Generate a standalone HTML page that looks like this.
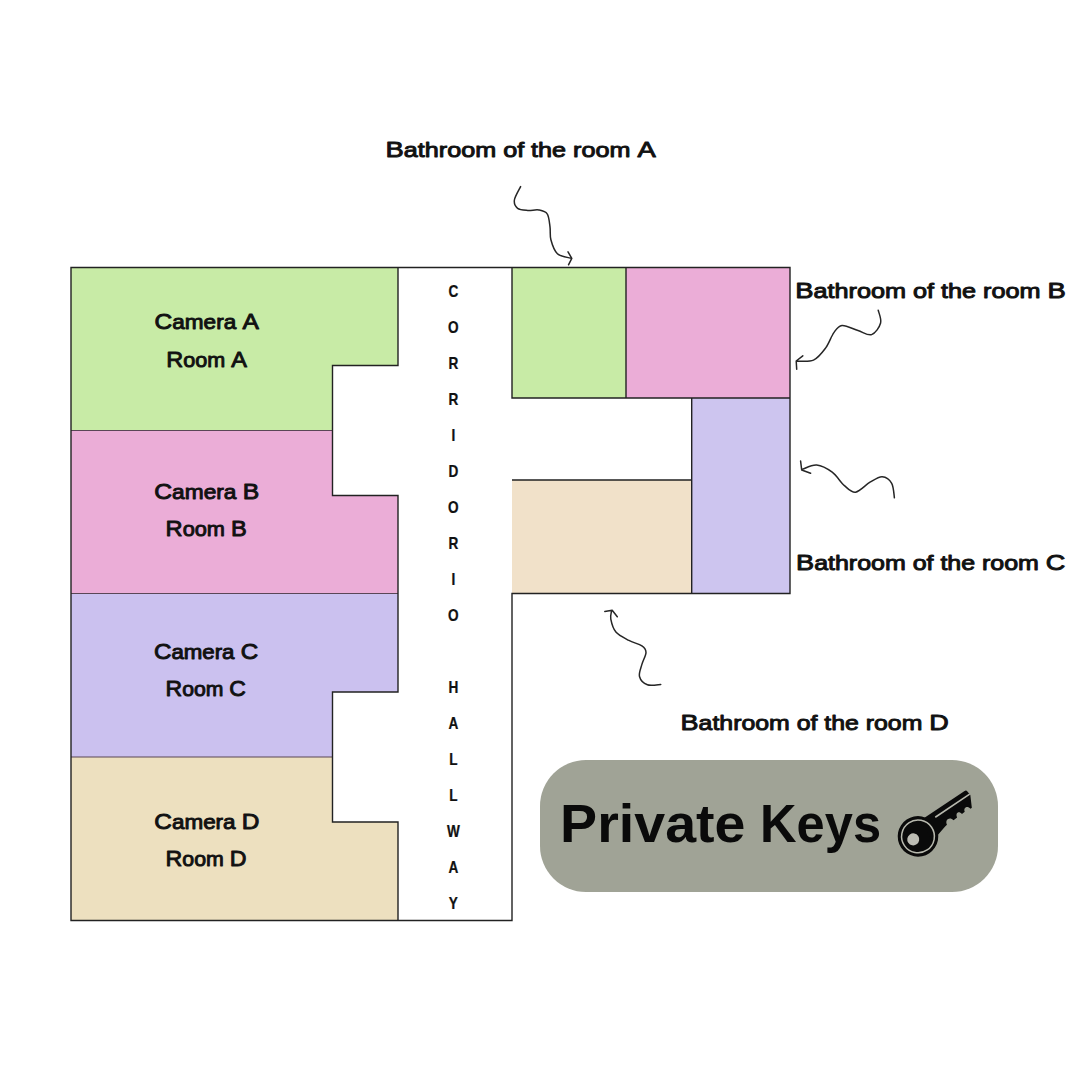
<!DOCTYPE html>
<html><head><meta charset="utf-8"><style>
html,body{margin:0;padding:0;background:#fff;width:1080px;height:1080px;overflow:hidden}
svg{position:absolute;left:0;top:0;font-family:"Liberation Sans",sans-serif}
</style></head><body>
<svg width="1080" height="1080" viewBox="0 0 1080 1080">
<rect width="1080" height="1080" fill="#fff"/>
<path d="M71,267.5 H398 V365.5 H332.5 V430.5 H71 Z" fill="#c8eba6"/>
<path d="M71,430.5 H332.5 V495.5 H398 V593.5 H71 Z" fill="#ebadd7"/>
<path d="M71,593.5 H398 V692 H332.5 V757 H71 Z" fill="#cbc1ef"/>
<path d="M71,757 H332.5 V822 H398 V920.5 H71 Z" fill="#ede0bf"/>
<rect x="512" y="267.5" width="114" height="130.5" fill="#c8eba6"/>
<rect x="626" y="267.5" width="164" height="130.5" fill="#ebadd7"/>
<rect x="691.7" y="398" width="98.3" height="195.5" fill="#cdc5ef"/>
<rect x="512" y="480" width="179.7" height="113.5" fill="#f1e1c9"/>
<path d="M71,430.5 H332.5 M71,593.5 H398 M71,757 H332.5" fill="none" stroke="#5a4656" stroke-width="1.2"/>
<path d="M71,267.5 H790 V593.5 H512 V920.5 H71 Z M398,267.5 V365.5 H332.5 V495.5 H398 V692 H332.5 V822 H398 V920.5 M512,267.5 V398 H790 M626,267.5 V398 M691.7,398 V593.5 M512,480 H691.7 V593.5" fill="none" stroke="#222" stroke-width="1.4"/>
<text transform="translate(385.55,156.66) scale(1.2013,1)" font-size="22.79" fill="#111" font-weight="normal" stroke="#111" stroke-width="0.95" stroke-linejoin="round"><tspan font-size="22.79">B</tspan><tspan font-size="20.97">athroom of the room </tspan><tspan font-size="22.79">A</tspan></text>
<text transform="translate(795.24,297.56) scale(1.2107,1)" font-size="22.64" fill="#111" font-weight="normal" stroke="#111" stroke-width="0.95" stroke-linejoin="round"><tspan font-size="22.64">B</tspan><tspan font-size="20.83">athroom of the room </tspan><tspan font-size="22.64">B</tspan></text>
<text transform="translate(796.07,570.36) scale(1.2081,1)" font-size="22.46" fill="#111" font-weight="normal" stroke="#111" stroke-width="0.95" stroke-linejoin="round"><tspan font-size="22.46">B</tspan><tspan font-size="20.67">athroom of the room </tspan><tspan font-size="22.46">C</tspan></text>
<text transform="translate(680.58,730.36) scale(1.1857,1)" font-size="22.79" fill="#111" font-weight="normal" stroke="#111" stroke-width="0.95" stroke-linejoin="round"><tspan font-size="22.79">B</tspan><tspan font-size="20.97">athroom of the room </tspan><tspan font-size="22.79">D</tspan></text>
<text transform="translate(154.61,329.36) scale(1.1049,1)" font-size="22.18" fill="#111" font-weight="normal" stroke="#111" stroke-width="0.95" stroke-linejoin="round"><tspan font-size="22.18">C</tspan><tspan font-size="20.40">amera </tspan><tspan font-size="22.18">A</tspan></text>
<text transform="translate(166.26,366.56) scale(1.0299,1)" font-size="22.79" fill="#111" font-weight="normal" stroke="#111" stroke-width="0.95" stroke-linejoin="round"><tspan font-size="22.79">R</tspan><tspan font-size="20.97">oom </tspan><tspan font-size="22.79">A</tspan></text>
<text transform="translate(154.30,499.36) scale(1.1128,1)" font-size="22.18" fill="#111" font-weight="normal" stroke="#111" stroke-width="0.95" stroke-linejoin="round"><tspan font-size="22.18">C</tspan><tspan font-size="20.40">amera </tspan><tspan font-size="22.18">B</tspan></text>
<text transform="translate(165.55,536.16) scale(1.0375,1)" font-size="22.79" fill="#111" font-weight="normal" stroke="#111" stroke-width="0.95" stroke-linejoin="round"><tspan font-size="22.79">R</tspan><tspan font-size="20.97">oom </tspan><tspan font-size="22.79">B</tspan></text>
<text transform="translate(153.93,659.36) scale(1.0916,1)" font-size="22.18" fill="#111" font-weight="normal" stroke="#111" stroke-width="0.95" stroke-linejoin="round"><tspan font-size="22.18">C</tspan><tspan font-size="20.40">amera </tspan><tspan font-size="22.18">C</tspan></text>
<text transform="translate(165.59,696.16) scale(1.0254,1)" font-size="22.46" fill="#111" font-weight="normal" stroke="#111" stroke-width="0.95" stroke-linejoin="round"><tspan font-size="22.46">R</tspan><tspan font-size="20.67">oom </tspan><tspan font-size="22.46">C</tspan></text>
<text transform="translate(154.32,829.36) scale(1.1012,1)" font-size="22.18" fill="#111" font-weight="normal" stroke="#111" stroke-width="0.95" stroke-linejoin="round"><tspan font-size="22.18">C</tspan><tspan font-size="20.40">amera </tspan><tspan font-size="22.18">D</tspan></text>
<text transform="translate(165.58,866.16) scale(1.0176,1)" font-size="22.79" fill="#111" font-weight="normal" stroke="#111" stroke-width="0.95" stroke-linejoin="round"><tspan font-size="22.79">R</tspan><tspan font-size="20.97">oom </tspan><tspan font-size="22.79">D</tspan></text>
<text transform="translate(453.3,297) scale(0.85,1)" font-size="16" font-weight="bold" fill="#111" stroke="#111" stroke-width="0.25" text-anchor="middle">C</text>
<text transform="translate(453.3,333) scale(0.85,1)" font-size="16" font-weight="bold" fill="#111" stroke="#111" stroke-width="0.25" text-anchor="middle">O</text>
<text transform="translate(453.3,369) scale(0.85,1)" font-size="16" font-weight="bold" fill="#111" stroke="#111" stroke-width="0.25" text-anchor="middle">R</text>
<text transform="translate(453.3,405) scale(0.85,1)" font-size="16" font-weight="bold" fill="#111" stroke="#111" stroke-width="0.25" text-anchor="middle">R</text>
<text transform="translate(453.3,441) scale(0.85,1)" font-size="16" font-weight="bold" fill="#111" stroke="#111" stroke-width="0.25" text-anchor="middle">I</text>
<text transform="translate(453.3,477) scale(0.85,1)" font-size="16" font-weight="bold" fill="#111" stroke="#111" stroke-width="0.25" text-anchor="middle">D</text>
<text transform="translate(453.3,513) scale(0.85,1)" font-size="16" font-weight="bold" fill="#111" stroke="#111" stroke-width="0.25" text-anchor="middle">O</text>
<text transform="translate(453.3,549) scale(0.85,1)" font-size="16" font-weight="bold" fill="#111" stroke="#111" stroke-width="0.25" text-anchor="middle">R</text>
<text transform="translate(453.3,585) scale(0.85,1)" font-size="16" font-weight="bold" fill="#111" stroke="#111" stroke-width="0.25" text-anchor="middle">I</text>
<text transform="translate(453.3,621) scale(0.85,1)" font-size="16" font-weight="bold" fill="#111" stroke="#111" stroke-width="0.25" text-anchor="middle">O</text>
<text transform="translate(453.3,693) scale(0.85,1)" font-size="16" font-weight="bold" fill="#111" stroke="#111" stroke-width="0.25" text-anchor="middle">H</text>
<text transform="translate(453.3,729) scale(0.85,1)" font-size="16" font-weight="bold" fill="#111" stroke="#111" stroke-width="0.25" text-anchor="middle">A</text>
<text transform="translate(453.3,765) scale(0.85,1)" font-size="16" font-weight="bold" fill="#111" stroke="#111" stroke-width="0.25" text-anchor="middle">L</text>
<text transform="translate(453.3,801) scale(0.85,1)" font-size="16" font-weight="bold" fill="#111" stroke="#111" stroke-width="0.25" text-anchor="middle">L</text>
<text transform="translate(453.3,837) scale(0.85,1)" font-size="16" font-weight="bold" fill="#111" stroke="#111" stroke-width="0.25" text-anchor="middle">W</text>
<text transform="translate(453.3,873) scale(0.85,1)" font-size="16" font-weight="bold" fill="#111" stroke="#111" stroke-width="0.25" text-anchor="middle">A</text>
<text transform="translate(453.3,909) scale(0.85,1)" font-size="16" font-weight="bold" fill="#111" stroke="#111" stroke-width="0.25" text-anchor="middle">Y</text>
<path stroke="#262626" stroke-width="1.5" fill="none" stroke-linecap="round" stroke-linejoin="round" d="M520.6,186.6 C519.6,188.8 514.9,196.4 514.4,200.0 C513.9,203.6 515.4,206.6 517.6,208.3 C519.8,210.0 524.2,210.1 527.8,210.4 C531.3,210.7 535.7,209.4 538.9,210.0 C542.1,210.6 545.4,211.1 547.2,213.9 C549.1,216.7 549.4,222.6 550.0,226.9 C550.6,231.2 549.7,235.3 550.9,239.8 C552.1,244.3 554.0,250.6 557.4,253.7 C560.8,256.8 569.0,257.5 571.3,258.3 M568,251.9 L571.8,258.3 L568.5,264.8"/>
<path stroke="#262626" stroke-width="1.5" fill="none" stroke-linecap="round" stroke-linejoin="round" d="M878.2,310.2 C878.6,312.3 881.7,318.9 880.6,323.0 C879.5,327.1 875.4,333.4 871.6,334.6 C867.8,335.9 862.9,332.0 858.0,330.5 C853.1,329.0 846.0,325.1 842.0,325.5 C838.0,325.9 836.6,328.9 833.9,332.6 C831.2,336.3 829.1,343.3 825.7,347.9 C822.3,352.5 818.4,357.9 813.5,360.1 C808.6,362.3 799.1,360.9 796.2,361.1 M802.8,355.8 L796.2,361 L796.7,369.3"/>
<path stroke="#262626" stroke-width="1.5" fill="none" stroke-linecap="round" stroke-linejoin="round" d="M894.4,497.8 C894.0,495.4 893.7,486.8 891.7,483.3 C889.7,479.8 885.8,476.9 882.2,476.7 C878.6,476.5 874.4,479.6 870.0,482.2 C865.6,484.8 859.9,491.6 855.6,492.2 C851.3,492.8 848.3,488.9 844.4,485.6 C840.5,482.3 836.8,475.6 832.2,472.2 C827.6,468.8 821.7,465.5 816.7,465.0 C811.7,464.5 804.6,468.7 802.2,469.4 M800.6,461.1 L801.7,470 L810.6,473.3"/>
<path stroke="#262626" stroke-width="1.5" fill="none" stroke-linecap="round" stroke-linejoin="round" d="M660.8,684.4 C658.6,684.5 650.9,686.1 647.4,684.8 C643.9,683.5 640.4,679.9 639.5,676.5 C638.6,673.1 640.8,668.4 641.9,664.4 C643.0,660.4 646.0,655.5 646.0,652.4 C646.0,649.3 644.8,647.9 641.9,645.9 C639.0,643.9 633.2,642.7 628.9,640.4 C624.6,638.1 618.9,635.5 615.9,632.0 C612.9,628.5 611.5,622.6 610.8,619.1 C610.1,615.6 611.4,612.5 611.5,611.2 M604.8,611.5 L612.2,610.3 L617.3,616.8"/>
<rect x="540" y="760" width="458" height="132" rx="46" ry="46" fill="#a0a396"/>
<text transform="translate(560.11,841.70) scale(1.0364,1)" font-size="53.62" fill="#0a0a0a" font-weight="bold">Private</text>
<text transform="translate(760.06,841.70) scale(0.9439,1)" font-size="53.62" fill="#0a0a0a" font-weight="bold">Keys</text>
<g transform="translate(918,836.4) rotate(-34)">
<circle cx="0" cy="0" r="20.3" fill="#0a0a0a"/>
<path fill="#0a0a0a" d="M10,-11.9 L64,-11.6 Q66,-11.5 66,-9.5 L66.5,-5 L60.6,6.4 L59,6.5 C58.3,1.5 53.3,1.5 52.5,5.8 L49,6 C48.3,1.3 43.8,1.3 43,6.2 L38.5,6.5 C37.6,1 31.3,1 30.5,6.6 L28,7 L15,10.5 L10,11 Z"/>
<path d="M25,-6.2 L66.5,-6.2" stroke="#b8b9ae" stroke-width="1.6"/>
<circle cx="0" cy="0" r="16.4" fill="none" stroke="#b8b9ae" stroke-width="1.5"/>
<circle cx="-5.6" cy="-0.2" r="6" fill="#bdbdb4"/>
</g>
</svg></body></html>
